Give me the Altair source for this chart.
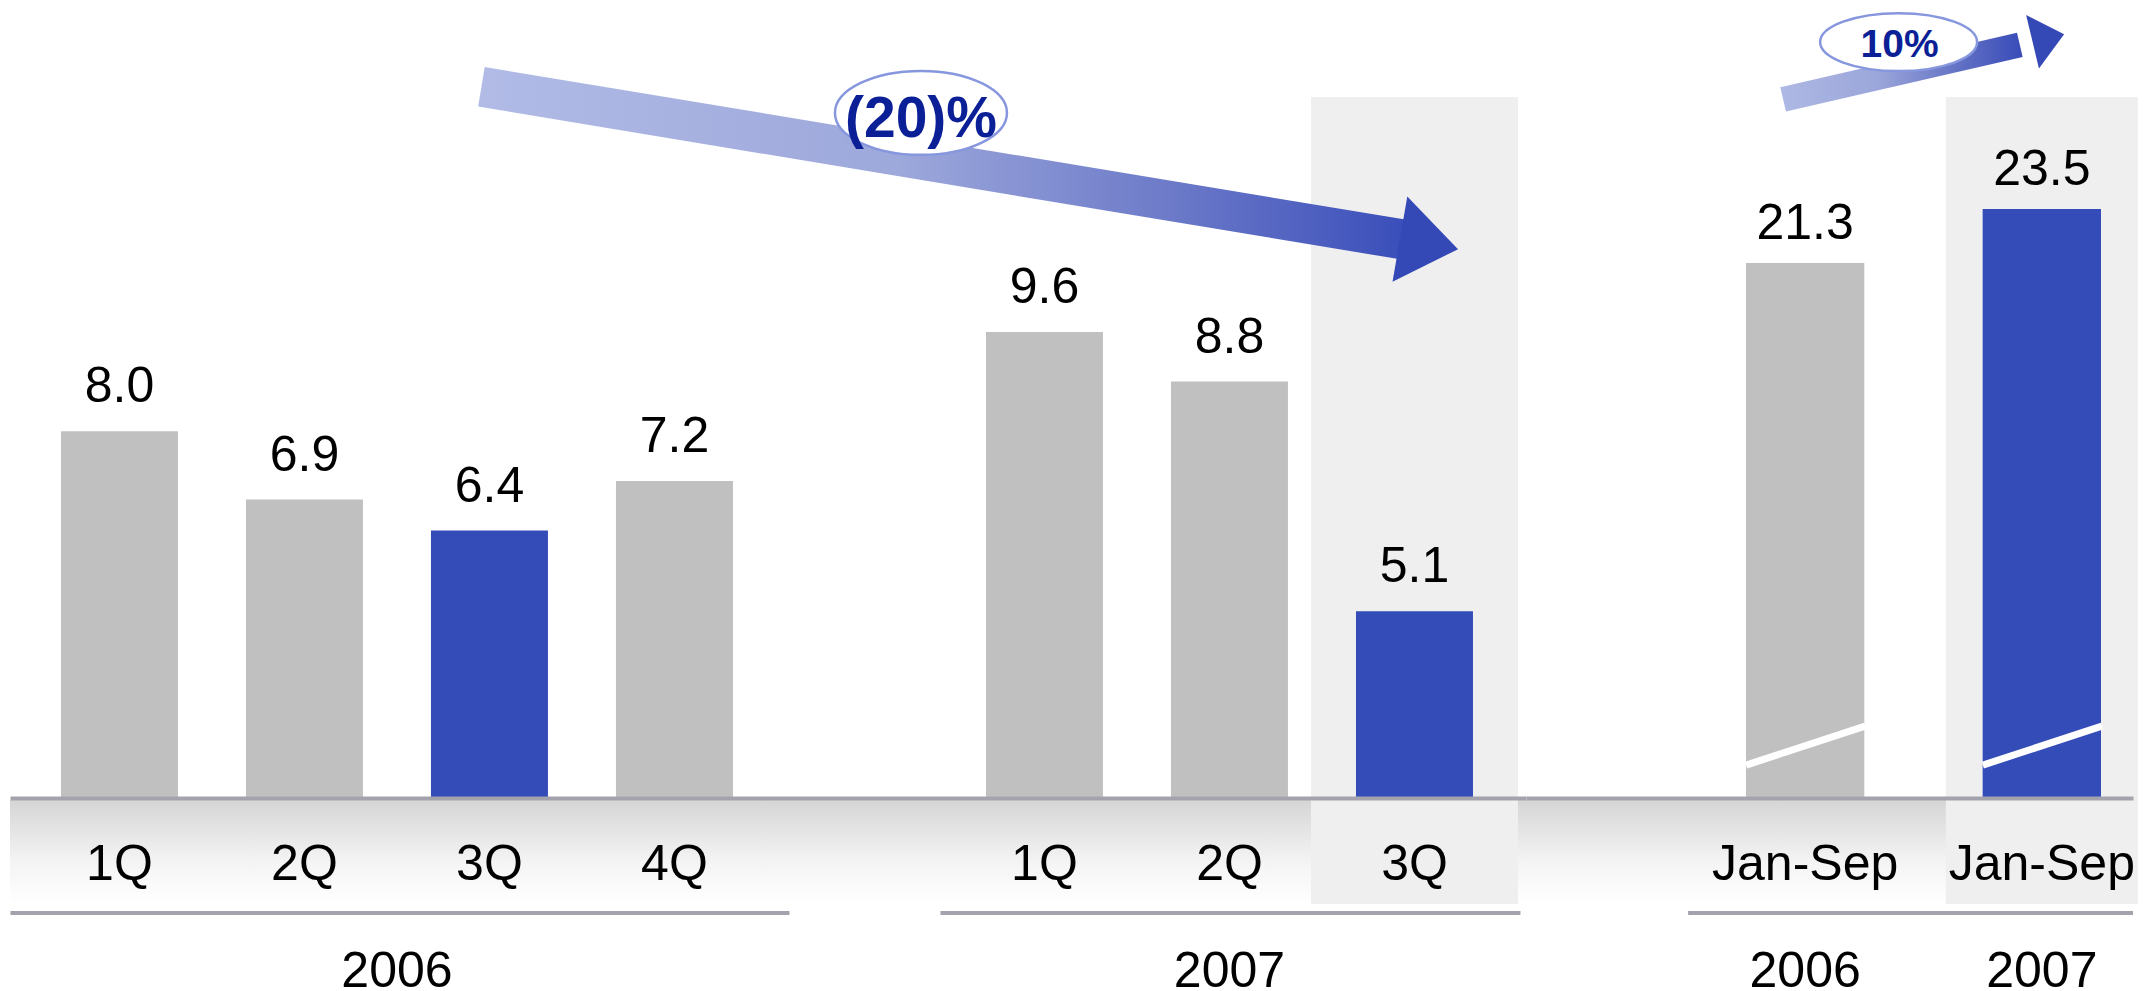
import altair as alt
import pandas as pd

# ------------------------------------------------------------------ data
quarter_years = ["2006", "2006", "2006", "2006", "2007", "2007", "2007"]
quarter_labels = ["1Q", "2Q", "3Q", "4Q", "1Q", "2Q", "3Q"]
quarter_values = [8.0, 6.9, 6.4, 7.2, 9.6, 8.8, 5.1]
quarter_blue = [False, False, True, False, False, False, True]
quarter_shade = [False, False, False, False, False, False, True]

ytd_years = ["2006", "2007"]
ytd_labels = ["Jan-Sep", "Jan-Sep"]
ytd_values = [21.3, 23.5]
ytd_blue = [False, True]
ytd_shade = [False, True]

quarter_change = "(20)%"
ytd_change = "10%"

# ------------------------------------------------------------------ styles
FONT = "Liberation Sans"
GRAY = "#c0c0c0"
BLUE = "#344cb7"
HEAD_BLUE = "#3449b6"
SHADE = "#efefef"
RULE = "#a3a3ad"
NAVY = "#0b1f96"
ELLIPSE_STROKE = "#8797de"

PLOT_H = 790
LEFT_W, RIGHT_W = 1516, 607
L_PI, L_PO, L_ALIGN = 0.3676, 0.281, 0.490
R_PI, R_PO, R_ALIGN = 0.5, 0.5322, 0.873
L_DOMAIN = [2.09, 14.82]
R_DOMAIN = [-0.49, 31.69]
BREAK_FROM, BREAK_TO = 0.85, 2.44
UNDERLINE_PAD = {"2006": (-109, 115), "2007": (-104, 106)}

# annotation geometry (arrows / bubbles), in data units of each panel
ARROW_L = {"from": "2006 3Q", "to": "2007 3Q", "y0": 13.55, "y1": 11.08, "head_y": 11.015}
BUBBLE_L = {"slot": "gap", "y": 13.13}
ARROW_R = {"from": "2006 Jan-Sep", "to": "2007 Jan-Sep", "y0": 27.97, "y1": 30.19, "head_y": 30.47}
BUBBLE_R = {"slot": "2006 Jan-Sep", "y": 30.30}


def ellipse_path(k):
    c = 0.5523
    return (f"M-1,0C-1,{-c*k:.4f} {-c:.4f},{-k:.4f} 0,{-k:.4f}"
            f"C{c:.4f},{-k:.4f} 1,{-c*k:.4f} 1,0"
            f"C1,{c*k:.4f} {c:.4f},{k:.4f} 0,{k:.4f}"
            f"C{-c:.4f},{k:.4f} -1,{c*k:.4f} -1,0Z")


def head_path(w):
    return f"M-1,{-w}L1,0L-1,{w}Z"


def arrow_gradient(stops):
    return alt.Gradient(gradient="linear", x1=0, x2=1, y1=0, y2=0,
                        stops=[alt.GradientStop(color=c, offset=o) for o, c in stops])


band_gradient = alt.Gradient(
    gradient="linear", x1=0, x2=0, y1=0, y2=1,
    stops=[alt.GradientStop(color="#d5d5d5", offset=0),
           alt.GradientStop(color="#f4f4f4", offset=0.6),
           alt.GradientStop(color="#ffffff", offset=1)])


def slot_key(year, label):
    return f"{year} {label}"


# ------------------------------------------------------------------ tables
q_keys = [slot_key(y, l) for y, l in zip(quarter_years, quarter_labels)]
q_year_order = list(dict.fromkeys(quarter_years))
left_order = []
for i, yr in enumerate(q_year_order):
    if i > 0:
        left_order.append("gap")
    left_order += [k for k, y in zip(q_keys, quarter_years) if y == yr]

qdf = pd.DataFrame({"slot": q_keys, "year": quarter_years, "label": quarter_labels,
                    "value": quarter_values, "blue": quarter_blue, "shade": quarter_shade})
q_groups = pd.DataFrame({
    "year": q_year_order,
    "first": [[k for k, y in zip(q_keys, quarter_years) if y == yr][0] for yr in q_year_order],
    "last": [[k for k, y in zip(q_keys, quarter_years) if y == yr][-1] for yr in q_year_order],
    "n": [quarter_years.count(yr) for yr in q_year_order],
})

r_keys = [slot_key(y, l) for y, l in zip(ytd_years, ytd_labels)]
rdf = pd.DataFrame({"slot": r_keys, "year": ytd_years, "label": ytd_labels,
                    "value": ytd_values, "blue": ytd_blue, "shade": ytd_shade})
r_groups = pd.DataFrame({"first": [r_keys[0]], "last": [r_keys[-1]]})

one_row = pd.DataFrame({"k": [0]})

LABEL_EXPR = "indexof(datum.value, ' ') > 0 ? split(datum.value, ' ')[1] : ''"


def make_axis():
    return alt.Axis(title=None, labelExpr=LABEL_EXPR, labelAngle=0, labelFont=FONT,
                    labelFontSize=50, labelColor="black", labelBaseline="alphabetic",
                    labelPadding=81, ticks=False, tickSize=0, domainColor=RULE,
                    domainWidth=4, labelOverlap=False, labelLimit=0, labelFlush=False,
                    grid=False, zindex=1)


def make_x(field, order, pi, po, align):
    return alt.X(f"{field}:N", scale=alt.Scale(domain=order, paddingInner=pi,
                                               paddingOuter=po, align=align),
                 axis=make_axis())


def make_y(field, domain):
    return alt.Y(f"{field}:Q", scale=alt.Scale(domain=domain, zero=False, nice=False),
                 axis=None)


def panel(df, X, Y, domain, label_dy, shade_w):
    layers = []
    layers.append(alt.Chart(one_row).mark_rect(color=band_gradient).encode(
        x=alt.value(0), x2=alt.value("width"),
        y=alt.value(PLOT_H + 2), y2=alt.value(PLOT_H + 106)))
    layers.append(alt.Chart(df).transform_filter("datum.shade").mark_bar(
        color=SHADE, width=shade_w).encode(
        x=X(), y=alt.value(89), y2=alt.value(PLOT_H + 106)))
    layers.append(alt.Chart(df).mark_bar().encode(
        x=X(), y=Y("value"), y2=alt.Y2(datum=domain[0]),
        color=alt.condition("datum.blue", alt.value(BLUE), alt.value(GRAY))))
    layers.append(alt.Chart(df).mark_text(
        dy=label_dy, baseline="alphabetic", align="center", font=FONT, fontSize=50,
        color="black").encode(x=X(), y=Y("value"), text=alt.Text("value:Q", format=".1f")))
    return layers


# ------------------------------------------------------------------ left panel
step_l = LEFT_W / (len(left_order) - L_PI + 2 * L_PO)
XL = lambda f="slot": make_x(f, left_order, L_PI, L_PO, L_ALIGN)
YL = lambda f: make_y(f, L_DOMAIN)

left_layers = panel(qdf, XL, YL, L_DOMAIN, -29, 207)
for yr, n in zip(q_groups["year"], q_groups["n"]):
    pad0, pad1 = UNDERLINE_PAD[yr]
    grp = alt.Chart(q_groups).transform_filter(f"datum.year == '{yr}'")
    left_layers.append(grp.mark_rule(
        color=RULE, strokeWidth=4, xOffset=pad0, x2Offset=pad1).encode(
        x=XL("first"), x2=alt.X2("last:N"), y=alt.value(PLOT_H + 115)))
    left_layers.append(grp.mark_text(
        xOffset=(n - 1) / 2 * step_l, baseline="alphabetic", align="center",
        font=FONT, fontSize=50, color="black").encode(
        x=XL("first"), y=alt.value(PLOT_H + 189), text="year:N"))

arrow_l_df = pd.DataFrame({"slot": [ARROW_L["from"], ARROW_L["to"]],
                           "y": [ARROW_L["y0"], ARROW_L["y1"]]})
left_layers.append(alt.Chart(arrow_l_df).mark_line(
    color=arrow_gradient([(0, "#b1bbe6"), (0.45, "#9da8db"), (0.75, "#6b79c8"), (1, "#3a4eba")]),
    strokeWidth=40, strokeCap="butt", strokeJoin="bevel", xOffset=-8).encode(
    x=XL("slot"), y=YL("y")))
left_layers.append(alt.Chart(pd.DataFrame({"slot": [ARROW_L["to"]], "y": [ARROW_L["head_y"]]}))
                   .mark_point(shape=head_path(1.47), size=3481, angle=9.8, filled=True,
                               color=HEAD_BLUE, opacity=1, xOffset=14.5)
                   .encode(x=XL("slot"), y=YL("y")))
bub_l = pd.DataFrame({"slot": [BUBBLE_L["slot"]], "y": [BUBBLE_L["y"]], "t": [quarter_change]})
left_layers.append(alt.Chart(bub_l).mark_point(
    shape=ellipse_path(0.488), size=172 ** 2, filled=True, fill="white", stroke=ELLIPSE_STROKE,
    strokeWidth=2.5, opacity=1, fillOpacity=1, strokeOpacity=1, xOffset=61.5).encode(
    x=XL("slot"), y=YL("y")))
left_layers.append(alt.Chart(bub_l).mark_text(
    dy=24, xOffset=61.5, baseline="alphabetic", align="center", font=FONT, fontWeight="bold",
    fontSize=57, color=NAVY).encode(x=XL("slot"), y=YL("y"), text="t:N"))

left = alt.layer(*left_layers).properties(width=LEFT_W, height=PLOT_H)

# ------------------------------------------------------------------ right panel
XR = lambda f="slot": make_x(f, r_keys, R_PI, R_PO, R_ALIGN)
YR = lambda f: make_y(f, R_DOMAIN)

right_layers = panel(rdf, XR, YR, R_DOMAIN, -24, 192)
right_layers.append(alt.Chart(rdf).mark_rule(
    color="white", strokeWidth=7, xOffset=-59, x2Offset=60).encode(
    x=XR("slot"), x2=alt.X2("slot:N"),
    y=alt.Y(datum=BREAK_FROM, type="quantitative",
            scale=alt.Scale(domain=R_DOMAIN, zero=False, nice=False), axis=None),
    y2=alt.Y2(datum=BREAK_TO)))
right_layers.append(alt.Chart(r_groups).mark_rule(
    color=RULE, strokeWidth=4, xOffset=-117).encode(
    x=XR("first"), x2=alt.value("width"), y=alt.value(PLOT_H + 115)))
right_layers.append(alt.Chart(rdf).mark_text(
    baseline="alphabetic", align="center", font=FONT, fontSize=50, color="black").encode(
    x=XR("slot"), y=alt.value(PLOT_H + 189), text="year:N"))

arrow_r_df = pd.DataFrame({"slot": [ARROW_R["from"], ARROW_R["to"]],
                           "y": [ARROW_R["y0"], ARROW_R["y1"]]})
right_layers.append(alt.Chart(arrow_r_df).mark_line(
    color=arrow_gradient([(0, "#aeb8e4"), (0.4, "#9ba6da"), (0.75, "#6170c4"), (1, "#3a4db9")]),
    strokeWidth=25, strokeCap="butt", strokeJoin="bevel", xOffset=-22).encode(
    x=XR("slot"), y=YR("y")))
right_layers.append(alt.Chart(pd.DataFrame({"slot": [ARROW_R["to"]], "y": [ARROW_R["head_y"]]}))
                    .mark_point(shape=head_path(1.69), size=1056, angle=346.5, filled=True,
                                color=HEAD_BLUE, opacity=1, xOffset=6.5)
                    .encode(x=XR("slot"), y=YR("y")))
bub_r = pd.DataFrame({"slot": [BUBBLE_R["slot"]], "y": [BUBBLE_R["y"]], "t": [ytd_change]})
right_layers.append(alt.Chart(bub_r).mark_point(
    shape=ellipse_path(0.369), size=157 ** 2, filled=True, fill="white", stroke=ELLIPSE_STROKE,
    strokeWidth=2.5, opacity=1, fillOpacity=1, strokeOpacity=1, xOffset=93.5).encode(
    x=XR("slot"), y=YR("y")))
right_layers.append(alt.Chart(bub_r).mark_text(
    dy=15, xOffset=94.5, baseline="alphabetic", align="center", font=FONT, fontWeight="bold",
    fontSize=39, color=NAVY).encode(x=XR("slot"), y=YR("y"), text="t:N"))

right = alt.layer(*right_layers).properties(width=RIGHT_W, height=PLOT_H)

chart = (alt.hconcat(left, right, spacing=0, bounds="flush")
         .properties(padding=0)
         .configure_view(strokeWidth=0))

chart.save("out.html", embed_options={"renderer": "svg", "actions": False})
